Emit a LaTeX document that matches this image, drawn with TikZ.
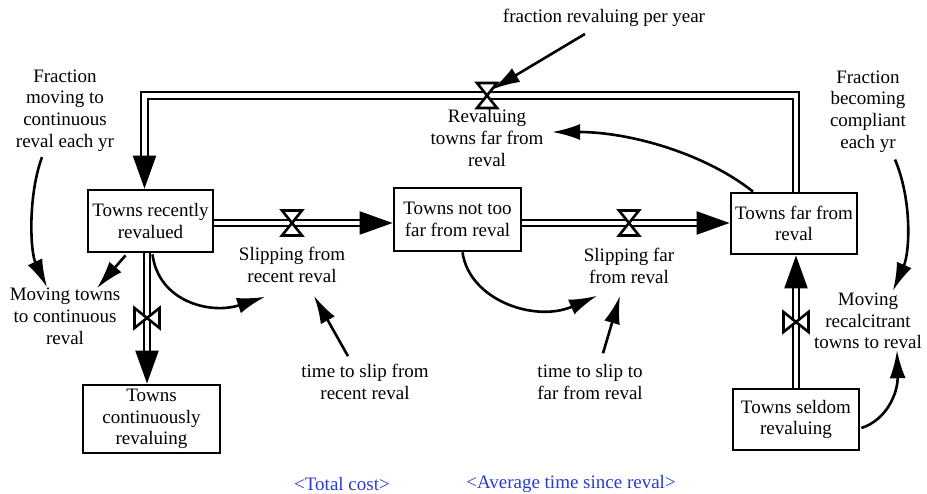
\documentclass[tikz,border=0pt]{standalone}
\usepackage{fontspec}
\setmainfont{Liberation Serif}
\usetikzlibrary{arrows.meta}
\definecolor{shadowblue}{RGB}{40,60,210}
\begin{document}
\begin{tikzpicture}[x=1pt,y=-1pt,
  every node/.style={font=\fontsize{19}{21.7}\selectfont, align=center, inner sep=2pt},
  stock/.style={draw, line width=2.8pt, inner sep=0pt},
  pipe/.style={draw, line width=2.2pt, double=white, double distance=4.5pt, line join=miter},
  pipearrow/.style={-{Triangle[length=33pt,width=23pt]}},
  info/.style={line width=2.6pt, -{Latex[length=28pt,width=16pt]}},
  shadow/.style={text=shadowblue},
  valve/.pic={\filldraw[fill=white, draw=black, line width=2.6pt, line join=miter]
      (-10,-12.5) -- (10,-12.5) -- (0,0) -- cycle
      (-10,12.5) -- (10,12.5) -- (0,0) -- cycle;}]
\useasboundingbox (0,0) rectangle (927,494);

% stocks
\node[stock, minimum width=125pt, minimum height=62pt] (rec)  at (150.5,221)   {Towns recently\\revalued};
\node[stock, minimum width=127pt, minimum height=63pt] (new)  at (457.5,219.5) {Towns not too\\far from reval};
\node[stock, minimum width=126pt, minimum height=61pt] (far)  at (794,223.5)   {Towns far from\\reval};
\node[stock, minimum width=137pt, minimum height=68pt] (cont) at (151.5,419)   {Towns\\continuously\\revaluing};
\node[stock, minimum width=126pt, minimum height=61pt] (seld) at (796,419.5)   {Towns seldom\\revaluing};

% valve positions and pipe corners
\coordinate (v0) at (487,95.5);
\coordinate (c1) at (796,95.5);
\coordinate (c2) at (144.5,95.5);
\coordinate (v1) at (292,223);
\coordinate (v2) at (629,223);
\coordinate (v3) at (147,318);
\coordinate (v4) at (796,322);

% flows
\draw[pipe, pipearrow] (far.north -| c1) -- (c1) -- (c2) -- (rec.north -| c2);
\draw[pipe, pipearrow] (rec.east |- v1) -- (new.west |- v1);
\draw[pipe, pipearrow] (new.east |- v2) -- (far.west |- v2);
\draw[pipe, pipearrow] (rec.south -| v3) -- (cont.north -| v3);
\draw[pipe, pipearrow] (seld.north -| v4) -- (far.south -| v4);

\pic at (v0) {valve};
\pic at (v1) {valve};
\pic at (v2) {valve};
\pic[rotate=90] at (v3) {valve};
\pic[rotate=90] at (v4) {valve};

% rates, constants and shadow variables
\node (fr) at (604,18)    {fraction revaluing per year};
\node (lr) at (487,138)   {Revaluing\\towns far from\\reval};
\node (fm) at (65,110.5)  {Fraction\\moving to\\continuous\\reval each yr};
\node (mt) at (65,316.5)  {Moving towns\\to continuous\\reval};
\node (sr) at (292,265)   {Slipping from\\recent reval};
\node (sf) at (629,266)   {Slipping far\\from reval};
\node (ts) at (365,382)   {time to slip from\\recent reval};
\node (tf) at (590,382)   {time to slip to\\far from reval};
\node (fb) at (868,111.5) {Fraction\\becoming\\compliant\\each yr};
\node (mr) at (868,321)   {Moving\\recalcitrant\\towns to reval};
\node[shadow] (tc) at (342,484) {<Total cost>};
\node[shadow] (at) at (571,484) {<Average time since reval>};

% information links
\draw[info] ([shift={(-19,5)}]fr.south) -- ([shift={(5,-6)}]v0);
\draw[info] ([shift={(-41,0)}]far.north) .. controls +(-48,-38) and +(78,0) .. ([shift={(6.5,-6)}]lr.east);
\draw[info] ([shift={(-23,3.5)}]fm.south) .. controls +(-14,38) and +(-17,-36) .. ([shift={(-18,1)}]mt.north);
\draw[info] ([shift={(-25,2)}]rec.south) -- ([shift={(32,2)}]mt.north);
\draw[info] ([shift={(2,1)}]rec.south) .. controls +(6,47) and +(-55,18) .. ([shift={(-27,12)}]sr.south);
\draw[info] ([shift={(-17,-6)}]ts.north) -- ([shift={(22,11)}]sr.south);
\draw[info] ([shift={(5,0)}]new.south) .. controls +(7,48) and +(-62,27) .. ([shift={(-32,10)}]sf.south);
\draw[info] ([shift={(13,-9)}]tf.north) -- ([shift={(-9,10)}]sf.south);
\draw[info] ([shift={(27,5)}]fb.south) .. controls +(17,40) and +(17,-39) .. ([shift={(25,0)}]mr.north);
\draw[info] ([shift={(1,8.5)}]seld.east) .. controls +(25,-8) and +(1,43) .. ([shift={(29,-1)}]mr.south);
\end{tikzpicture}
\end{document}
